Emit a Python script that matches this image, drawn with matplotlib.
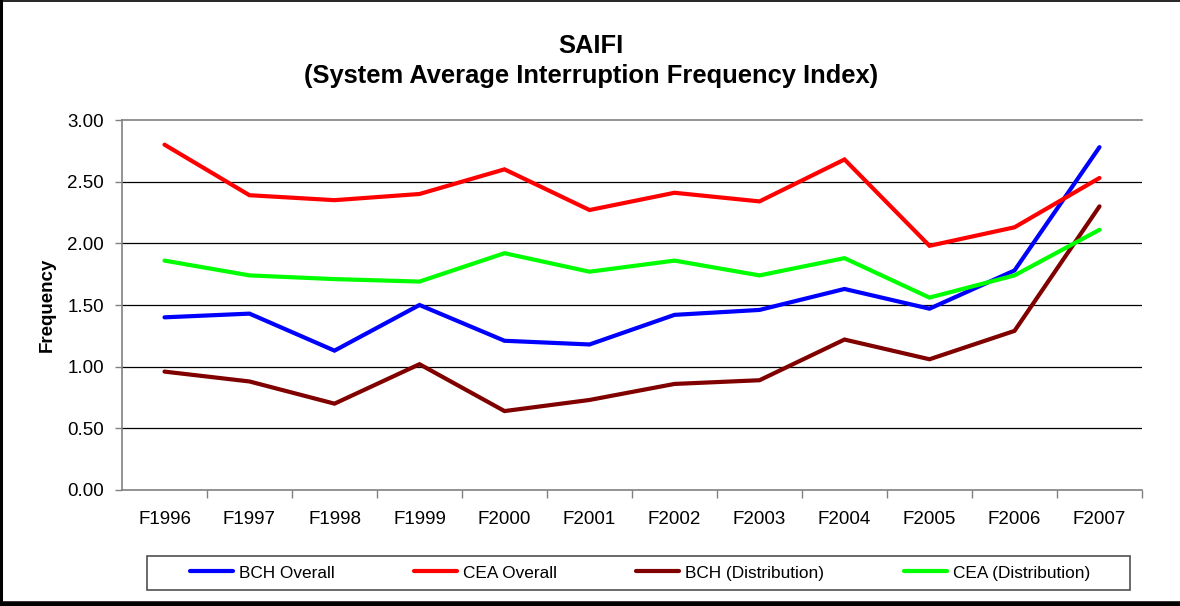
import matplotlib
matplotlib.use("Agg")
import matplotlib.pyplot as plt
from matplotlib.patches import Rectangle
from matplotlib.lines import Line2D

plt.rcParams['font.family'] = ['Liberation Sans', 'DejaVu Sans']

categories = ["F1996", "F1997", "F1998", "F1999", "F2000", "F2001",
              "F2002", "F2003", "F2004", "F2005", "F2006", "F2007"]
bch_overall = [1.40, 1.43, 1.13, 1.50, 1.21, 1.18, 1.42, 1.46, 1.63, 1.47, 1.78, 2.78]
cea_overall = [2.80, 2.39, 2.35, 2.40, 2.60, 2.27, 2.41, 2.34, 2.68, 1.98, 2.13, 2.53]
bch_dist = [0.96, 0.88, 0.70, 1.02, 0.64, 0.73, 0.86, 0.89, 1.22, 1.06, 1.29, 2.30]
cea_dist = [1.86, 1.74, 1.71, 1.69, 1.92, 1.77, 1.86, 1.74, 1.88, 1.56, 1.74, 2.11]
y_ticks = [0.0, 0.5, 1.0, 1.5, 2.0, 2.5, 3.0]

W, H = 1180, 606
fig = plt.figure(figsize=(W / 100, H / 100), dpi=100)
ax = fig.add_axes([122 / W, (H - 490) / H, (1142 - 122) / W, (490 - 120) / H])

x = list(range(len(categories)))
lw = 3.0
series = [
    (bch_overall, "#0000FF", "BCH Overall"),
    (cea_overall, "#FF0000", "CEA Overall"),
    (bch_dist, "#800000", "BCH (Distribution)"),
    (cea_dist, "#00FF00", "CEA (Distribution)"),
]
handles = []
for vals, col, lab in series:
    h, = ax.plot(x, vals, color=col, lw=lw, label=lab, solid_capstyle='round',
                 solid_joinstyle='miter', zorder=3)
    handles.append(h)

ax.set_xlim(-0.5, len(categories) - 0.5)
ax.set_ylim(0, 3.0)
ax.set_yticks(y_ticks)
ax.set_yticklabels([f"{v:.2f}" for v in y_ticks])
ax.set_xticks(x)
ax.set_xticklabels(categories)
ax.set_xticks([i + 0.5 for i in x], minor=True)
ax.tick_params(axis='x', which='major', length=0, pad=15, labelsize=13.5)
ax.tick_params(axis='x', which='minor', length=6, width=1, color='#808080', direction='out')
ax.tick_params(axis='y', which='major', length=5, width=1, color='#808080', direction='out',
               pad=8, labelsize=13.5)

for v in y_ticks[1:-1]:
    ax.axhline(v, color='black', lw=0.9, zorder=1)

for s in ['left', 'bottom', 'top']:
    ax.spines[s].set_color('#808080')
    ax.spines[s].set_linewidth(1.2)
ax.spines['right'].set_visible(False)

ax.set_ylabel("Frequency", fontsize=13.5, fontweight='bold', labelpad=8)

fig.text(591 / W, 1 - 61 / H, "SAIFI\n(System Average Interruption Frequency Index)",
         ha='center', va='center', fontsize=18.4, fontweight='bold', linespacing=1.33)

# legend box
fig.patches.append(Rectangle((147 / W, 1 - 590 / H), (1130 - 147) / W, (590 - 556) / H,
                             transform=fig.transFigure, fill=False,
                             edgecolor='#505050', lw=1.2))
fig.legend(handles=handles, loc='center', bbox_to_anchor=(640 / W, 1 - 573 / H),
           ncol=4, frameon=False, fontsize=12.4, handlelength=2.5, handletextpad=0.35,
           columnspacing=4.6)

# outer border
fig.add_artist(Line2D([1 / W, 1 / W], [0, 1], transform=fig.transFigure, color='black', lw=2.2))
fig.add_artist(Line2D([0, 1], [1 - 0.5 / H, 1 - 0.5 / H], transform=fig.transFigure, color='black', lw=1.2))
fig.add_artist(Line2D([0, 1], [2.5 / H, 2.5 / H], transform=fig.transFigure, color='black', lw=4))

fig.savefig("out.png", dpi=100)
